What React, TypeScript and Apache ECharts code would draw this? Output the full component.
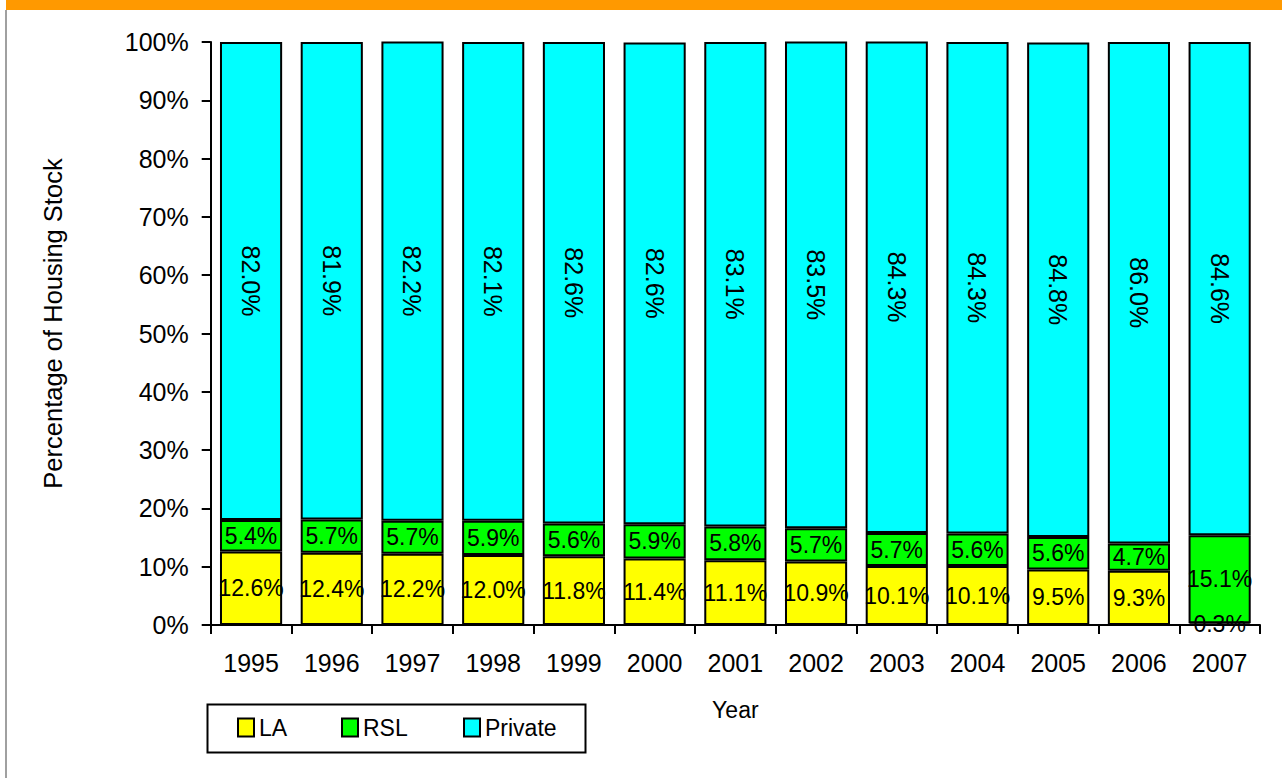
import React, { useEffect, useRef } from "react";
import * as echarts from "echarts";

// Housing stock tenure split by year (percent of total stock)
const years = ["1995", "1996", "1997", "1998", "1999", "2000", "2001", "2002", "2003", "2004", "2005", "2006", "2007"];
const laShare = [12.6, 12.4, 12.2, 12.0, 11.8, 11.4, 11.1, 10.9, 10.1, 10.1, 9.5, 9.3, 0.3];
const rslShare = [5.4, 5.7, 5.7, 5.9, 5.6, 5.9, 5.8, 5.7, 5.7, 5.6, 5.6, 4.7, 15.1];
const privateShare = [82.0, 81.9, 82.2, 82.1, 82.6, 82.6, 83.1, 83.5, 84.3, 84.3, 84.8, 86.0, 84.6];
const yTicks = { min: 0, max: 100, interval: 10 };

const FONT = "'Liberation Sans', Arial, sans-serif";
const pct = (p: any) => `${Number(p.value).toFixed(1)}%`;

export default function App() {
  const ref = useRef<HTMLDivElement>(null);

  useEffect(() => {
    if (!ref.current) return;
    const chart = echarts.init(ref.current, null, { renderer: "svg" });

    const barBase = {
      type: "bar" as const,
      stack: "tenure",
      barCategoryGap: "23%",
      itemStyle: { borderColor: "#000", borderWidth: 2 },
    };
    const insideLabel = {
      show: true,
      position: "inside" as const,
      color: "#000",
      fontFamily: FONT,
      fontSize: 23,
      formatter: pct,
    };

    const legendCommon = {
      top: 716,
      padding: 0,
      itemWidth: 16,
      itemHeight: 18,
      icon: "rect",
      itemStyle: { borderColor: "#000", borderWidth: 2 },
      textStyle: { color: "#000", fontFamily: FONT, fontSize: 23 },
    };

    chart.setOption({
      animation: false,
      backgroundColor: "#fff",
      textStyle: { fontFamily: FONT },
      grid: { left: 210.7, right: 22, top: 42, bottom: 153, containLabel: false },
      xAxis: {
        type: "category",
        data: years,
        name: "Year",
        nameLocation: "middle",
        nameGap: 73,
        nameTextStyle: { color: "#000", fontFamily: FONT, fontSize: 23 },
        axisLine: { lineStyle: { color: "#000", width: 2 } },
        axisTick: { show: true, length: 9, alignWithLabel: false, interval: 0, lineStyle: { color: "#000", width: 2 } },
        axisLabel: { color: "#000", fontFamily: FONT, fontSize: 25, margin: 25, interval: 0 },
        splitLine: { show: false },
      },
      yAxis: {
        type: "value",
        min: yTicks.min,
        max: yTicks.max,
        interval: yTicks.interval,
        name: "Percentage of Housing Stock",
        nameLocation: "middle",
        nameRotate: 90,
        nameGap: 145,
        nameTextStyle: { color: "#000", fontFamily: FONT, fontSize: 25.5, padding: [0, 0, 0, 20] },
        axisLine: { show: true, lineStyle: { color: "#000", width: 2 } },
        axisTick: { show: true, length: 9, lineStyle: { color: "#000", width: 2 } },
        axisLabel: { color: "#000", fontFamily: FONT, fontSize: 25, margin: 22, formatter: "{value}%" },
        splitLine: { show: false },
      },
      legend: [
        { ...legendCommon, left: 237, data: ["LA"] },
        { ...legendCommon, left: 341, data: ["RSL"] },
        { ...legendCommon, left: 463, data: ["Private"] },
      ],
      graphic: [
        { type: "rect", left: 6, top: 0, shape: { width: 1276, height: 10 }, style: { fill: "#FF9900" } },
        { type: "rect", left: 5, top: 10, shape: { width: 2, height: 768 }, style: { fill: "#A0A0A0" } },
        {
          type: "rect",
          left: 205,
          top: 702,
          shape: { width: 378, height: 48 },
          style: { fill: "none", stroke: "#000", lineWidth: 2 },
          silent: true,
        },
      ],
      series: [
        { ...barBase, name: "LA", data: laShare, itemStyle: { ...barBase.itemStyle, color: "#FFFF00" }, label: insideLabel },
        { ...barBase, name: "RSL", data: rslShare, itemStyle: { ...barBase.itemStyle, color: "#00FF00" }, label: insideLabel },
        {
          ...barBase,
          name: "Private",
          data: privateShare,
          itemStyle: { ...barBase.itemStyle, color: "#00FFFF" },
          label: { ...insideLabel, fontSize: 25, rotate: -90, align: "center", verticalAlign: "middle" },
        },
      ],
    });

    return () => chart.dispose();
  }, []);

  return (
    <div
      ref={ref}
      style={{ position: "fixed", left: 0, top: 0, width: 1282, height: 778, background: "#fff" }}
    />
  );
}
